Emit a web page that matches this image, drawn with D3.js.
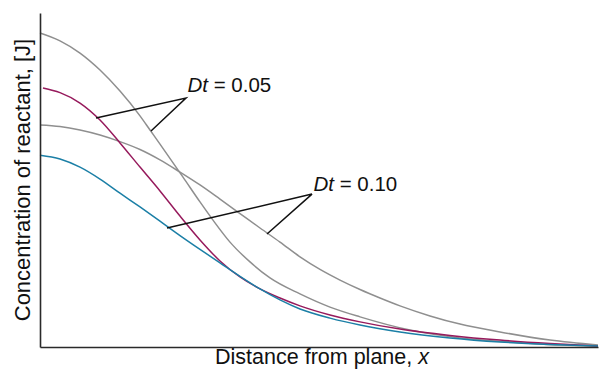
<!DOCTYPE html>
<html><head><meta charset="utf-8">
<script src="https://cdn.jsdelivr.net/npm/d3@7"></script>
<style>html,body{margin:0;padding:0;background:#fff;}svg{display:block;}</style>
</head><body>
<svg id="c" width="600" height="369"></svg>
<script>
// Relative distance from plane (x) and relative concentration (y)
const gray1X = [0, 0.05, 0.1, 0.15, 0.2, 0.25, 0.275, 0.3, 0.3575, 0.4, 0.4325, 0.475, 0.525, 0.575, 0.65, 0.725, 0.8, 0.925, 1.05, 1.175, 1.3, 1.395];
const gray1Y = [1.000, 0.975, 0.936, 0.882, 0.815, 0.736, 0.691, 0.646, 0.541, 0.462, 0.404, 0.334, 0.271, 0.220, 0.169, 0.127, 0.096, 0.054, 0.029, 0.016, 0.006, 0.003];
const gray2X = [0, 0.05, 0.1, 0.15, 0.2, 0.25, 0.3, 0.35, 0.4, 0.45, 0.5, 0.55, 0.6, 0.65, 0.7, 0.75, 0.8, 0.85, 0.9, 0.975, 1.05, 1.15, 1.275, 1.395];
const gray2Y = [0.707, 0.702, 0.691, 0.675, 0.654, 0.629, 0.596, 0.557, 0.516, 0.471, 0.425, 0.379, 0.334, 0.287, 0.247, 0.213, 0.183, 0.156, 0.131, 0.099, 0.073, 0.048, 0.022, 0.006];
const crimsonX = [0.0075, 0.05, 0.1, 0.15, 0.2, 0.25, 0.3, 0.35, 0.4, 0.45, 0.5, 0.55, 0.6, 0.65, 0.725, 0.8, 0.9, 1.025, 1.15, 1.275, 1.395];
const crimsonY = [0.825, 0.810, 0.777, 0.723, 0.650, 0.573, 0.497, 0.417, 0.341, 0.274, 0.223, 0.185, 0.156, 0.131, 0.102, 0.080, 0.057, 0.037, 0.022, 0.011, 0.003];
const tealX = [0, 0.05, 0.1, 0.15, 0.2, 0.25, 0.3, 0.35, 0.4, 0.45, 0.5, 0.55, 0.6, 0.65, 0.725, 0.8, 0.9, 1.025, 1.15, 1.275, 1.395];
const tealY = [0.611, 0.599, 0.573, 0.535, 0.490, 0.446, 0.401, 0.355, 0.311, 0.268, 0.225, 0.185, 0.150, 0.121, 0.092, 0.070, 0.048, 0.029, 0.016, 0.008, 0.003];
const labelNames = ["Dt", "Dt"];
const labelValues = ["0.05", "0.10"];
// Annotation anchor points (data units): [point on curve A, apex, point on curve B]
const ann05 = [[0.14, 0.729], [0.365, 0.793], [0.2775, 0.688]];
const ann10 = [[0.3175, 0.379], [0.68, 0.487], [0.5675, 0.360]];

const svg = d3.select("#c");
const x = d3.scaleLinear().domain([0, 1.395]).range([40, 598]);
const y = d3.scaleLinear().domain([0, 1.0637]).range([347, 13]);

const line = d3.line().x(d => x(d[0])).y(d => y(d[1])).curve(d3.curveMonotoneX);
const series = [
  {xs: gray1X, ys: gray1Y, c: "#8f8f8f"},
  {xs: gray2X, ys: gray2Y, c: "#8f8f8f"},
  {xs: crimsonX, ys: crimsonY, c: "#961a5c"},
  {xs: tealX, ys: tealY, c: "#1b7fa6"}
];
series.forEach(s => {
  svg.append("path").datum(s.xs.map((v, i) => [v, s.ys[i]]))
    .attr("d", line).attr("fill", "none").attr("stroke", s.c).attr("stroke-width", 1.5);
});

// axes (no ticks)
const xAxis = d3.axisBottom(x).tickValues([]).tickSizeOuter(0);
const yAxis = d3.axisLeft(y).tickValues([]).tickSizeOuter(0);
svg.append("g").attr("transform", "translate(0,347)").call(xAxis)
  .select(".domain").attr("stroke", "#2a2a2a").attr("stroke-width", 1.6);
svg.append("g").attr("transform", "translate(40,0)").call(yAxis)
  .select(".domain").attr("stroke", "#2a2a2a").attr("stroke-width", 1.6);

// annotations
const font = "Liberation Sans, Arial, sans-serif";
const annLine = d3.line().x(d => x(d[0])).y(d => y(d[1]));
const labelDy = [-6, -2.6];
[ann05, ann10].forEach((a, i) => {
  svg.append("path").attr("d", annLine(a)).attr("fill", "none")
    .attr("stroke", "#111").attr("stroke-width", 1.5);
  const t = svg.append("text").attr("x", x(a[1][0]) + 1.5).attr("y", y(a[1][1]) + labelDy[i])
    .attr("font-family", font).attr("font-size", 20.5).attr("fill", "#111");
  t.append("tspan").attr("font-style", "italic").text(labelNames[i]);
  t.append("tspan").text(" = " + labelValues[i]);
});

// axis titles
const xt = svg.append("text").attr("x", 322).attr("y", 364).attr("text-anchor", "middle")
  .attr("font-family", font).attr("font-size", 21.5).attr("fill", "#111");
xt.append("tspan").text("Distance from plane, ");
xt.append("tspan").attr("font-style", "italic").text("x");
svg.append("text").attr("transform", "translate(30,180) rotate(-90)").attr("text-anchor", "middle")
  .attr("font-family", font).attr("font-size", 22).attr("fill", "#111")
  .text("Concentration of reactant, [J]");
</script>
</body></html>
